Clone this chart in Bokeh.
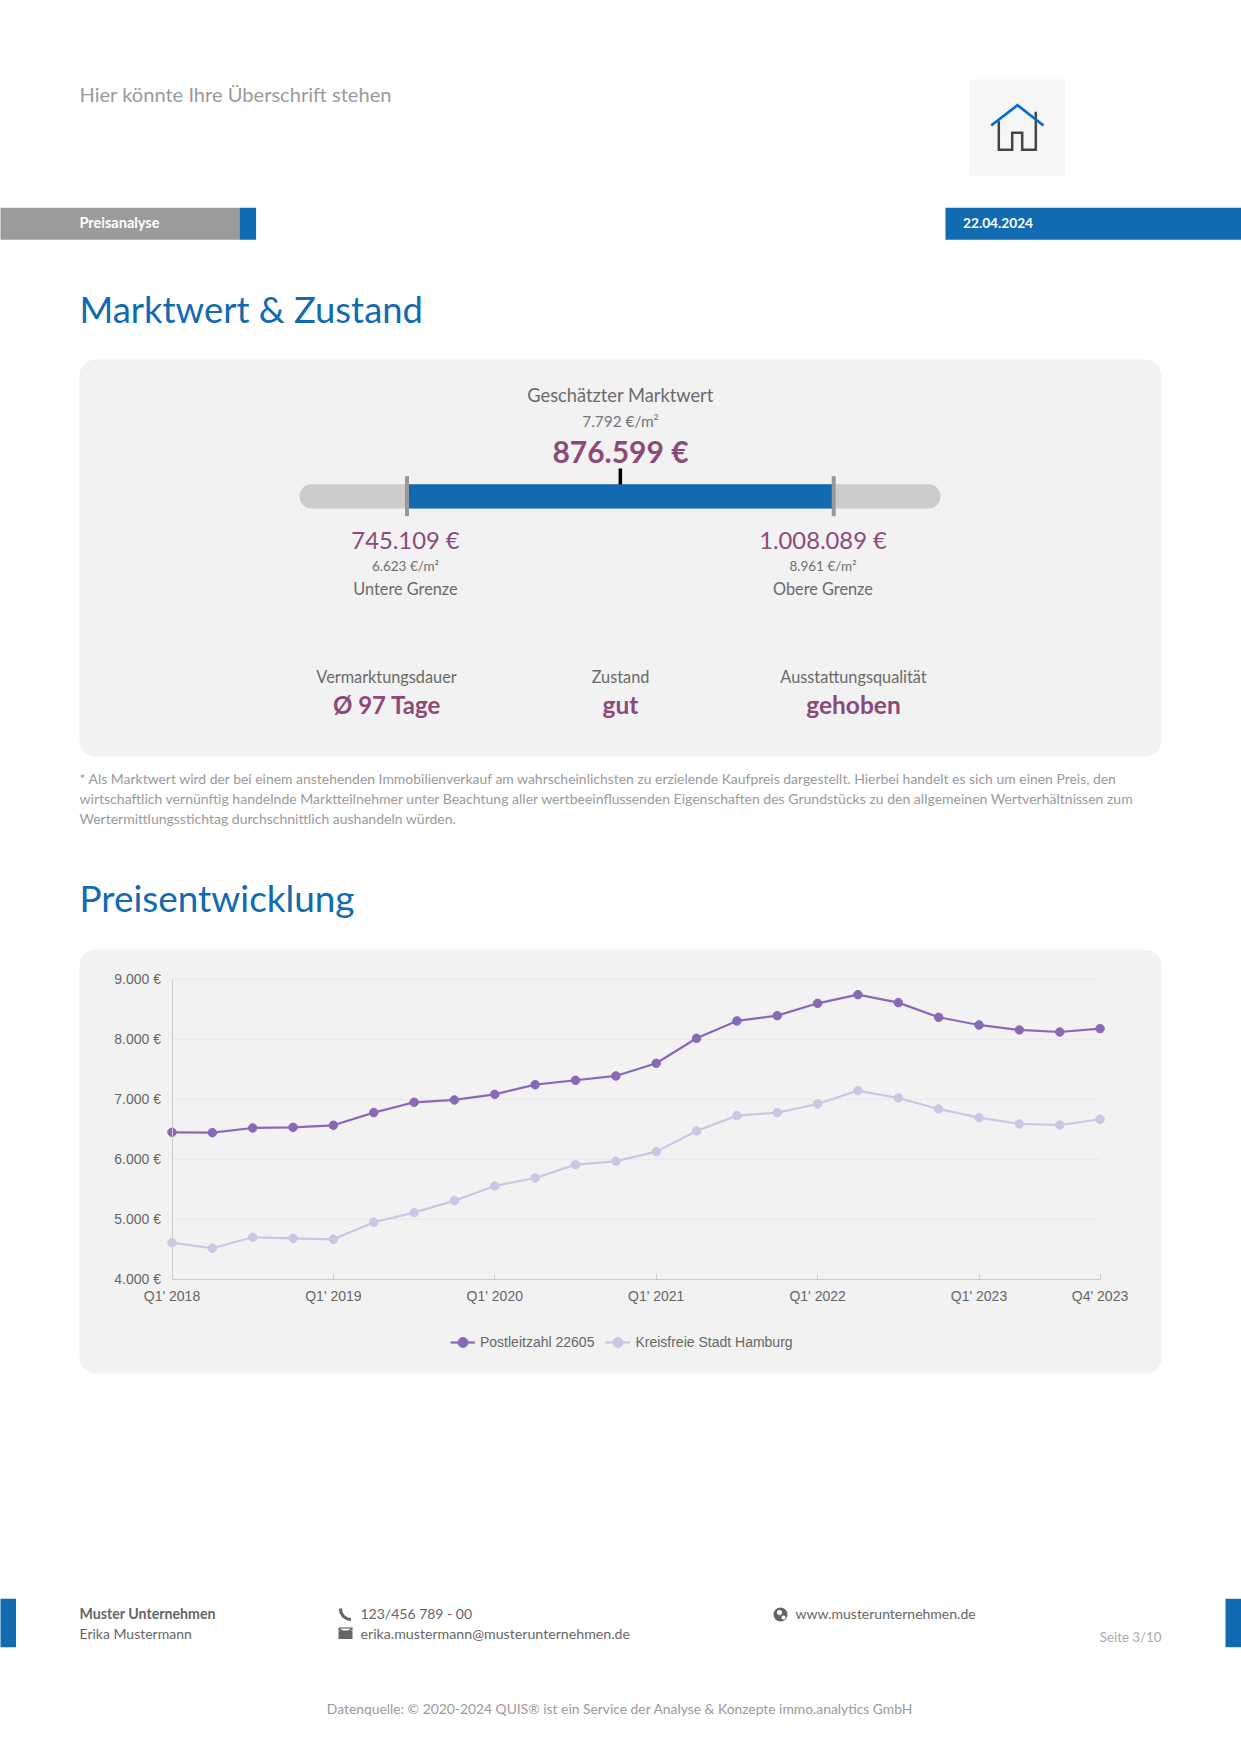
from bokeh.embed import file_html
from bokeh.resources import INLINE
from bokeh.plotting import figure
from bokeh.models import Range1d, FixedTicker, Legend, LegendItem
from bokeh.core.properties import value

# ---------- chart data ----------
quarters = [f"Q{q}' {y}" for y in range(2018, 2024) for q in (1, 2, 3, 4)]
plz_22605 = [6450, 6444, 6522, 6533, 6567, 6778, 6950, 6989, 7083, 7244, 7317, 7389,
             7600, 8017, 8306, 8394, 8600, 8744, 8611, 8367, 8239, 8156, 8122, 8178]
hamburg = [4611, 4517, 4700, 4683, 4667, 4950, 5111, 5311, 5556, 5689, 5911, 5967,
           6128, 6472, 6728, 6778, 6922, 7144, 7022, 6839, 6694, 6589, 6572, 6667]
x_ticks = [0, 4, 8, 12, 16, 20, 23]
y_ticks = [4000, 5000, 6000, 7000, 8000, 9000]
y_labels = ["4.000 €", "5.000 €", "6.000 €", "7.000 €", "8.000 €", "9.000 €"]
series_names = ["Postleitzahl 22605", "Kreisfreie Stadt Hamburg"]

# ---------- gauge data ----------
value_low = 745109
value_mid = 876599
value_high = 1008089

BLUE = "#126ab0"
PURPLE = "#8c4a78"
C1 = "#8a68b8"
C2 = "#d0c4e4"
PANEL = "#f2f2f2"
LATO = "Lato"

PX0, PX1, PY0, PY1 = 1, 1242, 1, 1757
QW = 40.35
X0 = 172.5
Y9000 = 979.8
PER1000 = 60.0

p = figure(width=1241, height=1756, output_backend="svg", toolbar_location=None,
           x_range=Range1d((PX0 - X0) / QW, (PX1 - X0) / QW),
           y_range=Range1d(9000 - (PY1 - Y9000) / PER1000 * 1000, 9000 + (Y9000 - PY0) / PER1000 * 1000),
           min_border=0, min_border_left=0, min_border_right=0, min_border_top=0, min_border_bottom=0,
           outline_line_color=None, background_fill_color="white", border_fill_color="white")
p.extra_x_ranges["page"] = Range1d(PX0, PX1)
p.extra_y_ranges["page"] = Range1d(PY1, PY0)
G_LO, G_HI = 407.5, 834.2
E_PER_PX = (value_high - value_low) / (G_HI - G_LO)
p.extra_x_ranges["euro"] = Range1d(value_low - (G_LO - PX0) * E_PER_PX, value_low + (PX1 - G_LO) * E_PER_PX)

PG = dict(x_range_name="page", y_range_name="page")
TEXT_DY = -1


def box(l, r, t, b, color, radius=0, level="image"):
    p.quad(left=[l], right=[r], top=[t], bottom=[b], fill_color=color, line_color=None,
           border_radius=radius, level=level, **PG)


def txt(x, y, s, size, color, align="left", style="normal", font=LATO):
    p.text(x=[x], y=[y + TEXT_DY], text=[s], text_font=value(font), text_font_size=f"{size}px",
           text_color=color, text_align=align, text_baseline="middle",
           text_font_style=style, **PG)


def poly(xs, ys, color, width):
    p.line(xs, ys, line_color=color, line_width=width, line_join="miter", level="underlay", **PG)


# ---------- panels ----------
box(80, 1162, 360, 757, PANEL, 16)
box(80, 1162, 950, 1374, PANEL, 16)

# ---------- header ----------
txt(80, 95, "Hier könnte Ihre Überschrift stehen", 20.1, "#9a9a9a")
box(970, 1066, 80, 176, "#f6f6f6")
poly([999.3, 999.3, 1012.7, 1012.7, 1022.7, 1022.7, 1036.3, 1036.3],
     [121.7, 150.3, 150.3, 133.3, 133.3, 150.3, 150.3, 112.3], "#444444", 2.5)
poly([991.7, 1018, 1044], [126, 105.7, 126], "#0a6cc8", 2.8)

box(-2, 240, 208.3, 240.3, "#9b9b9b")
box(240, 256.6, 208.3, 240.3, BLUE)
box(946, 1243, 208.3, 240.3, BLUE)
txt(80, 224, "Preisanalyse", 14.5, "white", style="bold")
txt(963.5, 224, "22.04.2024", 13.7, "white", style="bold")

txt(80, 310, "Marktwert & Zustand", 36.4, BLUE)
txt(80, 899, "Preisentwicklung", 36.9, BLUE)

# ---------- gauge ----------
txt(621, 396, "Geschätzter Marktwert", 18.3, "#6a6a6a", "center")
txt(621, 422, "7.792 €/m²", 15.4, "#777777", "center")
txt(621, 452.5, "876.599 €", 30, PURPLE, "center", "bold")

box(300, 941, 484.7, 509, "#cccccc", 12)
p.quad(left=[value_low], right=[value_high], top=[484.7], bottom=[509], fill_color=BLUE, line_color=None,
       x_range_name="euro", y_range_name="page", level="underlay")
for v in (value_low, value_high):
    p.segment(x0=[v], x1=[v], y0=[476.7], y1=[516.7], line_color="#999999", line_width=4,
              x_range_name="euro", y_range_name="page")
p.segment(x0=[value_mid], x1=[value_mid], y0=[469], y1=[485], line_color="#000000", line_width=3.5,
          x_range_name="euro", y_range_name="page")

txt(406, 541.5, "745.109 €", 23.8, PURPLE, "center")
txt(406, 567.5, "6.623 €/m²", 13.5, "#6f6f6f", "center")
txt(406, 589.5, "Untere Grenze", 16.3, "#6a6a6a", "center")
txt(823.5, 541.5, "1.008.089 €", 23.8, PURPLE, "center")
txt(823.5, 567.5, "8.961 €/m²", 13.5, "#6f6f6f", "center")
txt(823.5, 589.5, "Obere Grenze", 16.3, "#6a6a6a", "center")

txt(387, 677.5, "Vermarktungsdauer", 16.3, "#6a6a6a", "center")
txt(621, 677.5, "Zustand", 16.3, "#6a6a6a", "center")
txt(854, 677.5, "Ausstattungsqualität", 16.3, "#6a6a6a", "center")
txt(387.5, 705.5, "Ø 97 Tage", 24, PURPLE, "center", "bold")
txt(621, 705.5, "gut", 24.5, PURPLE, "center", "bold")
txt(854, 705.5, "gehoben", 24.5, PURPLE, "center", "bold")

# ---------- footnote ----------
txt(80, 779.5, "* Als Marktwert wird der bei einem anstehenden Immobilienverkauf am wahrscheinlichsten zu erzielende Kaufpreis dargestellt. Hierbei handelt es sich um einen Preis, den", 13.95, "#9a9a9a")
txt(80, 799.5, "wirtschaftlich vernünftig handelnde Marktteilnehmer unter Beachtung aller wertbeeinflussenden Eigenschaften des Grundstücks zu den allgemeinen Wertverhältnissen zum", 14.04, "#9a9a9a")
txt(80, 819.5, "Wertermittlungsstichtag durchschnittlich aushandeln würden.", 14, "#9a9a9a")

# ---------- line chart ----------
p.segment(x0=[x_ticks[0]] * 5, x1=[x_ticks[-1]] * 5, y0=y_ticks[1:], y1=y_ticks[1:],
          line_color="#e6e6f0", line_width=1, level="underlay")
xs = list(range(len(quarters)))
r1 = p.line(xs, plz_22605, line_color=C1, line_width=2.2)
s1 = p.scatter(xs, plz_22605, size=8.5, fill_color=C1, line_color=C1)
r2 = p.line(xs, hamburg, line_color=C2, line_width=2.2)
s2 = p.scatter(xs, hamburg, size=8.5, fill_color=C2, line_color=C2)

xa = p.xaxis[0]
xa.fixed_location = 4000
xa.bounds = (0, 23)
xa.ticker = FixedTicker(ticks=x_ticks)
xa.major_label_overrides = {i: quarters[i] for i in x_ticks}
xa.major_tick_in = 5
xa.major_tick_out = 0
xa.minor_tick_line_color = None
xa.major_tick_line_color = "#cccccc"
xa.axis_line_color = "#cccccc"
xa.major_label_text_font = "Liberation Sans"
xa.major_label_text_font_size = "14px"
xa.major_label_text_color = "#666666"
xa.major_label_standoff = 9

ya = p.yaxis[0]
ya.fixed_location = 0
ya.bounds = (4000, 9000)
ya.ticker = FixedTicker(ticks=y_ticks)
ya.major_label_overrides = dict(zip(y_ticks, y_labels))
ya.major_tick_in = 0
ya.major_tick_out = 0
ya.minor_tick_line_color = None
ya.axis_line_color = "#cccccc"
ya.major_label_text_font = "Liberation Sans"
ya.major_label_text_font_size = "14px"
ya.major_label_text_color = "#666666"
ya.major_label_standoff = 11

p.xgrid.visible = False
p.ygrid.visible = False

legend = Legend(items=[LegendItem(label=series_names[0], renderers=[r1, s1]),
                       LegendItem(label=series_names[1], renderers=[r2, s2])],
                orientation="horizontal", location=(450, 400),
                background_fill_alpha=0, border_line_color=None,
                label_text_font="Liberation Sans", label_text_font_size="14px",
                label_text_color="#666666", glyph_width=25, glyph_height=28,
                label_standoff=5, spacing=11, margin=0, padding=0)
p.add_layout(legend, "center")

# ---------- footer ----------
box(-2, 16.5, 1599.3, 1647.7, BLUE)
box(1226, 1243, 1599.3, 1647.7, BLUE)
txt(80, 1614.5, "Muster Unternehmen", 14.2, "#666666", style="bold")
txt(80, 1634.5, "Erika Mustermann", 14, "#666666")
txt(361, 1614.5, "123/456 789 - 00", 14, "#666666")
txt(361, 1634.5, "erika.mustermann@musterunternehmen.de", 14.2, "#666666")
txt(796, 1615, "www.musterunternehmen.de", 14, "#666666")
txt(1162, 1638, "Seite 3/10", 13.3, "#aaaaaa", "right")
txt(620.5, 1710, "Datenquelle: © 2020-2024 QUIS® ist ein Service der Analyse & Konzepte immo.analytics GmbH", 13.85, "#9a9a9a", "center")

# icons
p.line([341, 341.5, 344, 348, 351.5], [1609, 1613, 1617, 1619.5, 1620], line_color="#666666", line_width=3.2, **PG)
p.line([339.5, 353], [1628.5, 1628.5], line_color="#666666", line_width=1.2, **PG)
p.patch([339, 353, 353, 346, 339], [1631, 1631, 1639.5, 1639.5, 1639.5], fill_color="#666666", line_color=None, **PG)
p.line([339, 346, 353], [1629, 1634, 1629], line_color="#666666", line_width=1.8, **PG)
p.scatter([781], [1615], size=14, fill_color="#666666", line_color=None, **PG)
p.scatter([780], [1613], size=5, fill_color="white", line_color=None, **PG)
p.scatter([784], [1618], size=4, fill_color="white", line_color=None, **PG)

open("out.html", "w").write(file_html(p, INLINE))
